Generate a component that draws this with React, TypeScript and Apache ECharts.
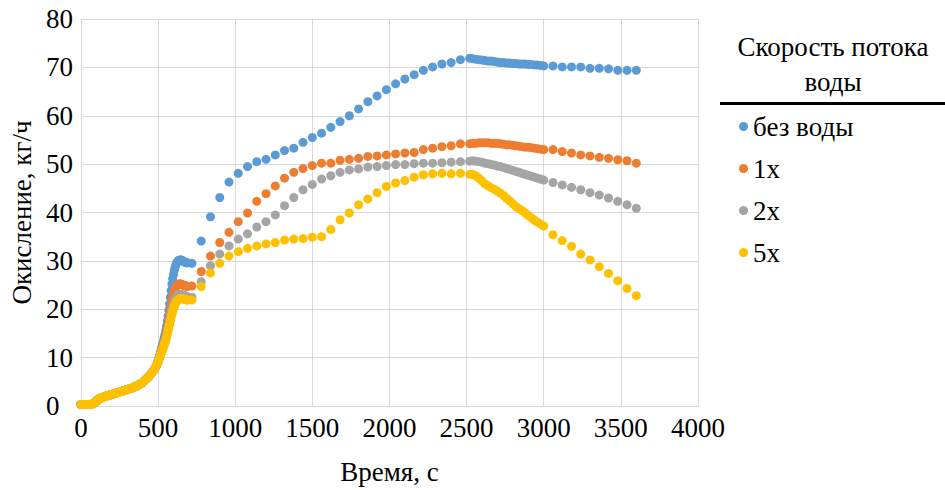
import React, { useEffect, useRef } from 'react';
import * as echarts from 'echarts';

const FONT = 'Liberation Serif';

const seriesNames = ['без воды', '1x', '2x', '5x'];
const seriesColors = ['#5B9BD5', '#ED7D31', '#A5A5A5', '#FFC000'];

const xTicks = [0, 500, 1000, 1500, 2000, 2500, 3000, 3500, 4000];
const yTicks = [0, 10, 20, 30, 40, 50, 60, 70, 80];

// shared start of all curves (time, value)
const commonStart: [number, number][] = [
  [0, 0.3], [10, 0.3], [20, 0.3], [30, 0.3], [40, 0.3], [50, 0.3], [60, 0.3], [70, 0.4], [80, 0.5], [90, 0.7],
  [100, 1.0], [110, 1.3], [120, 1.5], [130, 1.7], [140, 1.8], [150, 1.9], [160, 2.0], [170, 2.1], [180, 2.2], [190, 2.3],
  [200, 2.4], [210, 2.5], [220, 2.6], [230, 2.7], [240, 2.8], [250, 2.9], [260, 3.0], [270, 3.1], [280, 3.2], [290, 3.3],
  [300, 3.4], [310, 3.5], [320, 3.6], [330, 3.7], [340, 3.8], [350, 4.0], [360, 4.1], [370, 4.3], [380, 4.5], [390, 4.7],
  [400, 4.9], [410, 5.2], [420, 5.5], [430, 5.8], [440, 6.1], [450, 6.5], [460, 6.9], [470, 7.3], [480, 7.8], [490, 8.4],
];

const riseTimes = [
  500, 505, 510, 515, 520, 525, 530, 535, 540, 545, 550, 555, 560, 565, 570, 575, 580, 585, 590, 595,
  600, 605, 610, 615, 620, 625, 630, 635, 640, 645, 650, 655, 660, 665, 670, 675, 680, 685, 690,
];
const blueRise = [
  9.3, 9.8, 10.4, 11.0, 11.6, 12.2, 12.8, 13.4, 14.1, 14.8, 15.6, 16.5, 17.5, 18.6, 19.8, 21.1, 22.5, 23.9, 25.2, 26.3,
  27.2, 28.0, 28.6, 29.1, 29.5, 29.8, 30.0, 30.1, 30.2, 30.2, 30.2, 30.1, 30.0, 29.9, 29.8, 29.7, 29.7, 29.6, 29.6,
];
const orangeRise = [
  9.2, 9.7, 10.2, 10.8, 11.3, 11.8, 12.3, 12.8, 13.3, 13.9, 14.5, 15.2, 16.0, 16.9, 17.8, 18.8, 19.8, 20.8, 21.7, 22.5,
  23.2, 23.8, 24.2, 24.6, 24.8, 25.0, 25.1, 25.2, 25.2, 25.2, 25.2, 25.1, 25.0, 25.0, 24.9, 24.9, 24.8, 24.8, 24.7,
];
const grayRise = [
  9.1, 9.6, 10.1, 10.6, 11.1, 11.5, 11.9, 12.4, 12.9, 13.4, 14.0, 14.6, 15.3, 16.0, 16.7, 17.5, 18.2, 19.0, 19.7, 20.4,
  21.0, 21.5, 21.9, 22.3, 22.6, 22.8, 22.9, 23.0, 23.0, 23.0, 23.0, 23.0, 22.9, 22.9, 22.8, 22.8, 22.7, 22.6, 22.6,
];
const yellowRise = [
  9.0, 9.5, 10.0, 10.4, 10.9, 11.3, 11.6, 12.1, 12.6, 13.1, 13.6, 14.2, 14.9, 15.5, 16.2, 16.9, 17.6, 18.3, 18.9, 19.5,
  20.0, 20.5, 21.0, 21.3, 21.6, 21.8, 21.9, 22.0, 22.1, 22.2, 22.2, 22.2, 22.2, 22.1, 22.1, 22.0, 22.0, 21.9, 21.9,
];

const midTimes = [
  720, 780, 840, 900, 960, 1020, 1080, 1140, 1200, 1260, 1320, 1380, 1440, 1500, 1560, 1620,
  1680, 1740, 1800, 1860, 1920, 1980, 2040, 2100, 2160, 2220, 2280, 2340, 2400, 2460, 2520,
];
const blueMid = [
  29.5, 34.1, 39.1, 43.1, 46.3, 48.1, 49.5, 50.5, 51.0, 51.9, 52.8, 53.3, 54.5, 55.5, 56.4, 57.6,
  58.8, 60.0, 61.4, 62.9, 64.1, 65.4, 66.6, 67.6, 68.5, 69.4, 70.1, 70.7, 71.0, 71.6, 71.9,
];
const orangeMid = [
  24.8, 27.8, 31.0, 33.8, 35.9, 38.1, 39.9, 42.3, 43.9, 45.5, 47.1, 48.3, 49.1, 49.7, 50.2, 50.2,
  50.8, 51.0, 51.2, 51.6, 51.7, 51.9, 52.1, 52.3, 52.4, 53.0, 53.3, 53.6, 53.8, 54.2, 54.2,
];
const grayMid = [
  22.5, 25.7, 29.0, 31.4, 33.1, 34.5, 35.6, 37.0, 38.1, 39.5, 41.4, 43.1, 44.7, 45.8, 46.9, 47.6,
  48.3, 48.8, 49.0, 49.4, 49.5, 49.7, 49.9, 49.9, 50.1, 50.2, 50.2, 50.3, 50.4, 50.5, 50.6,
];
const yellowMid = [
  21.9, 24.7, 27.5, 29.5, 31.0, 31.9, 32.6, 33.1, 33.5, 33.8, 34.3, 34.5, 34.6, 34.9, 35.0, 36.5,
  38.5, 39.9, 41.6, 42.8, 44.1, 45.4, 46.1, 46.6, 47.3, 47.8, 48.0, 48.1, 48.0, 48.1, 47.9,
];

const denseTimes = [
  2540, 2560, 2580, 2600, 2620, 2640, 2660, 2680, 2700, 2720, 2740, 2760,
  2780, 2800, 2820, 2840, 2860, 2880, 2900, 2920, 2940, 2960, 2980, 3000,
];
const blueDense = [
  71.8, 71.7, 71.6, 71.5, 71.4, 71.3, 71.3, 71.2, 71.1, 71.0, 71.0, 70.9,
  70.9, 70.8, 70.8, 70.7, 70.7, 70.7, 70.6, 70.6, 70.5, 70.5, 70.4, 70.3,
];
const orangeDense = [
  54.3, 54.3, 54.4, 54.4, 54.4, 54.4, 54.3, 54.3, 54.3, 54.2, 54.1, 54.0,
  54.0, 53.9, 53.8, 53.7, 53.6, 53.5, 53.5, 53.4, 53.3, 53.2, 53.1, 53.0,
];
const grayDense = [
  50.7, 50.6, 50.5, 50.4, 50.2, 50.1, 49.9, 49.8, 49.6, 49.5, 49.3, 49.1,
  48.9, 48.7, 48.5, 48.3, 48.1, 47.9, 47.7, 47.5, 47.3, 47.1, 46.9, 46.7,
];
const yellowDense = [
  47.9, 47.6, 47.1, 46.5, 45.9, 45.5, 45.1, 44.8, 44.4, 44.0, 43.5, 42.9,
  42.4, 41.8, 41.2, 40.8, 40.4, 39.9, 39.4, 38.9, 38.4, 38.0, 37.6, 37.2,
];

const tailTimes = [3060, 3120, 3180, 3240, 3300, 3360, 3420, 3480, 3540, 3600];
const blueTail = [70.3, 70.1, 70.1, 70.1, 69.8, 69.8, 69.7, 69.4, 69.4, 69.4];
const orangeTail = [53.0, 52.6, 52.3, 51.9, 51.7, 51.4, 51.2, 50.9, 50.7, 50.2];
const grayTail = [46.2, 45.7, 45.2, 44.7, 44.1, 43.6, 43.0, 42.3, 41.6, 40.9];
const yellowTail = [35.4, 34.2, 33.0, 31.4, 30.2, 28.8, 27.4, 25.9, 24.3, 22.8];

const legendTitleLines = ['Скорость потока', 'воды'];
const xAxisTitle = 'Время, с';
const yAxisTitle = 'Окисление, кг/ч';

const zip = (t: number[], v: number[]) => t.map((x, i) => [x, v[i]]);

const buildSeries = (rise: number[], mid: number[], dense: number[], tail: number[]) => [
  ...commonStart,
  ...zip(riseTimes, rise),
  ...zip(midTimes, mid),
  ...zip(denseTimes, dense),
  ...zip(tailTimes, tail),
];

const seriesData = [
  buildSeries(blueRise, blueMid, blueDense, blueTail),
  buildSeries(orangeRise, orangeMid, orangeDense, orangeTail),
  buildSeries(grayRise, grayMid, grayDense, grayTail),
  buildSeries(yellowRise, yellowMid, yellowDense, yellowTail),
];

export default function App() {
  const ref = useRef<HTMLDivElement>(null);
  useEffect(() => {
    document.body.style.margin = '0';
    const chart = echarts.init(ref.current!, null, { renderer: 'svg' });
    const gridColor = '#d9d9d9';
    chart.setOption({
      animation: false,
      grid: { left: 79, top: 19, width: 619, height: 387 },
      xAxis: {
        type: 'value',
        min: xTicks[0],
        max: xTicks[xTicks.length - 1],
        interval: xTicks[1] - xTicks[0],
        name: xAxisTitle,
        nameLocation: 'middle',
        nameGap: 52,
        nameTextStyle: { fontFamily: FONT, fontSize: 27, color: '#000' },
        axisLine: { show: true, lineStyle: { color: gridColor } },
        axisTick: { show: false },
        axisLabel: {
          fontFamily: FONT, fontSize: 27, color: '#000', margin: 8,
          showMinLabel: true, showMaxLabel: true,
          formatter: (v: number) => String(v),
        },
        splitLine: { show: true, lineStyle: { color: gridColor } },
      },
      yAxis: {
        type: 'value',
        min: yTicks[0],
        max: yTicks[yTicks.length - 1],
        interval: yTicks[1] - yTicks[0],
        name: yAxisTitle,
        nameLocation: 'middle',
        nameGap: 44,
        nameTextStyle: { fontFamily: FONT, fontSize: 27, color: '#000' },
        axisLine: { show: true, lineStyle: { color: gridColor } },
        axisTick: { show: false },
        axisLabel: {
          fontFamily: FONT, fontSize: 27, color: '#000', margin: 35, align: 'left',
          showMinLabel: true, showMaxLabel: true,
          padding: [7, 0, 0, 0],
          formatter: (v: number) => String(v),
        },
        splitLine: { show: true, lineStyle: { color: gridColor } },
      },
      legend: {
        orient: 'vertical',
        left: 734,
        top: 108,
        itemGap: 15,
        itemWidth: 9,
        itemHeight: 9,
        icon: 'circle',
        data: seriesNames,
        textStyle: { fontFamily: FONT, fontSize: 27, color: '#000' },
      },
      graphic: [
        {
          type: 'text', x: 833, y: 47,
          style: { text: legendTitleLines[0], fontFamily: FONT, fontSize: 27, fill: '#000', align: 'center', verticalAlign: 'middle' },
        },
        {
          type: 'text', x: 833, y: 82,
          style: { text: legendTitleLines[1], fontFamily: FONT, fontSize: 27, fill: '#000', align: 'center', verticalAlign: 'middle' },
        },
        {
          type: 'rect', shape: { x: 720, y: 102, width: 225, height: 3 },
          style: { fill: '#000' },
        },
      ],
      series: seriesNames.map((name, i) => ({
        type: 'scatter',
        name,
        data: seriesData[i],
        symbolSize: 9,
        itemStyle: { color: seriesColors[i], opacity: 1 },
        z: 2 + i,
      })),
    });
    return () => chart.dispose();
  }, []);
  return <div ref={ref} style={{ width: 945, height: 490, fontFamily: FONT }} />;
}
